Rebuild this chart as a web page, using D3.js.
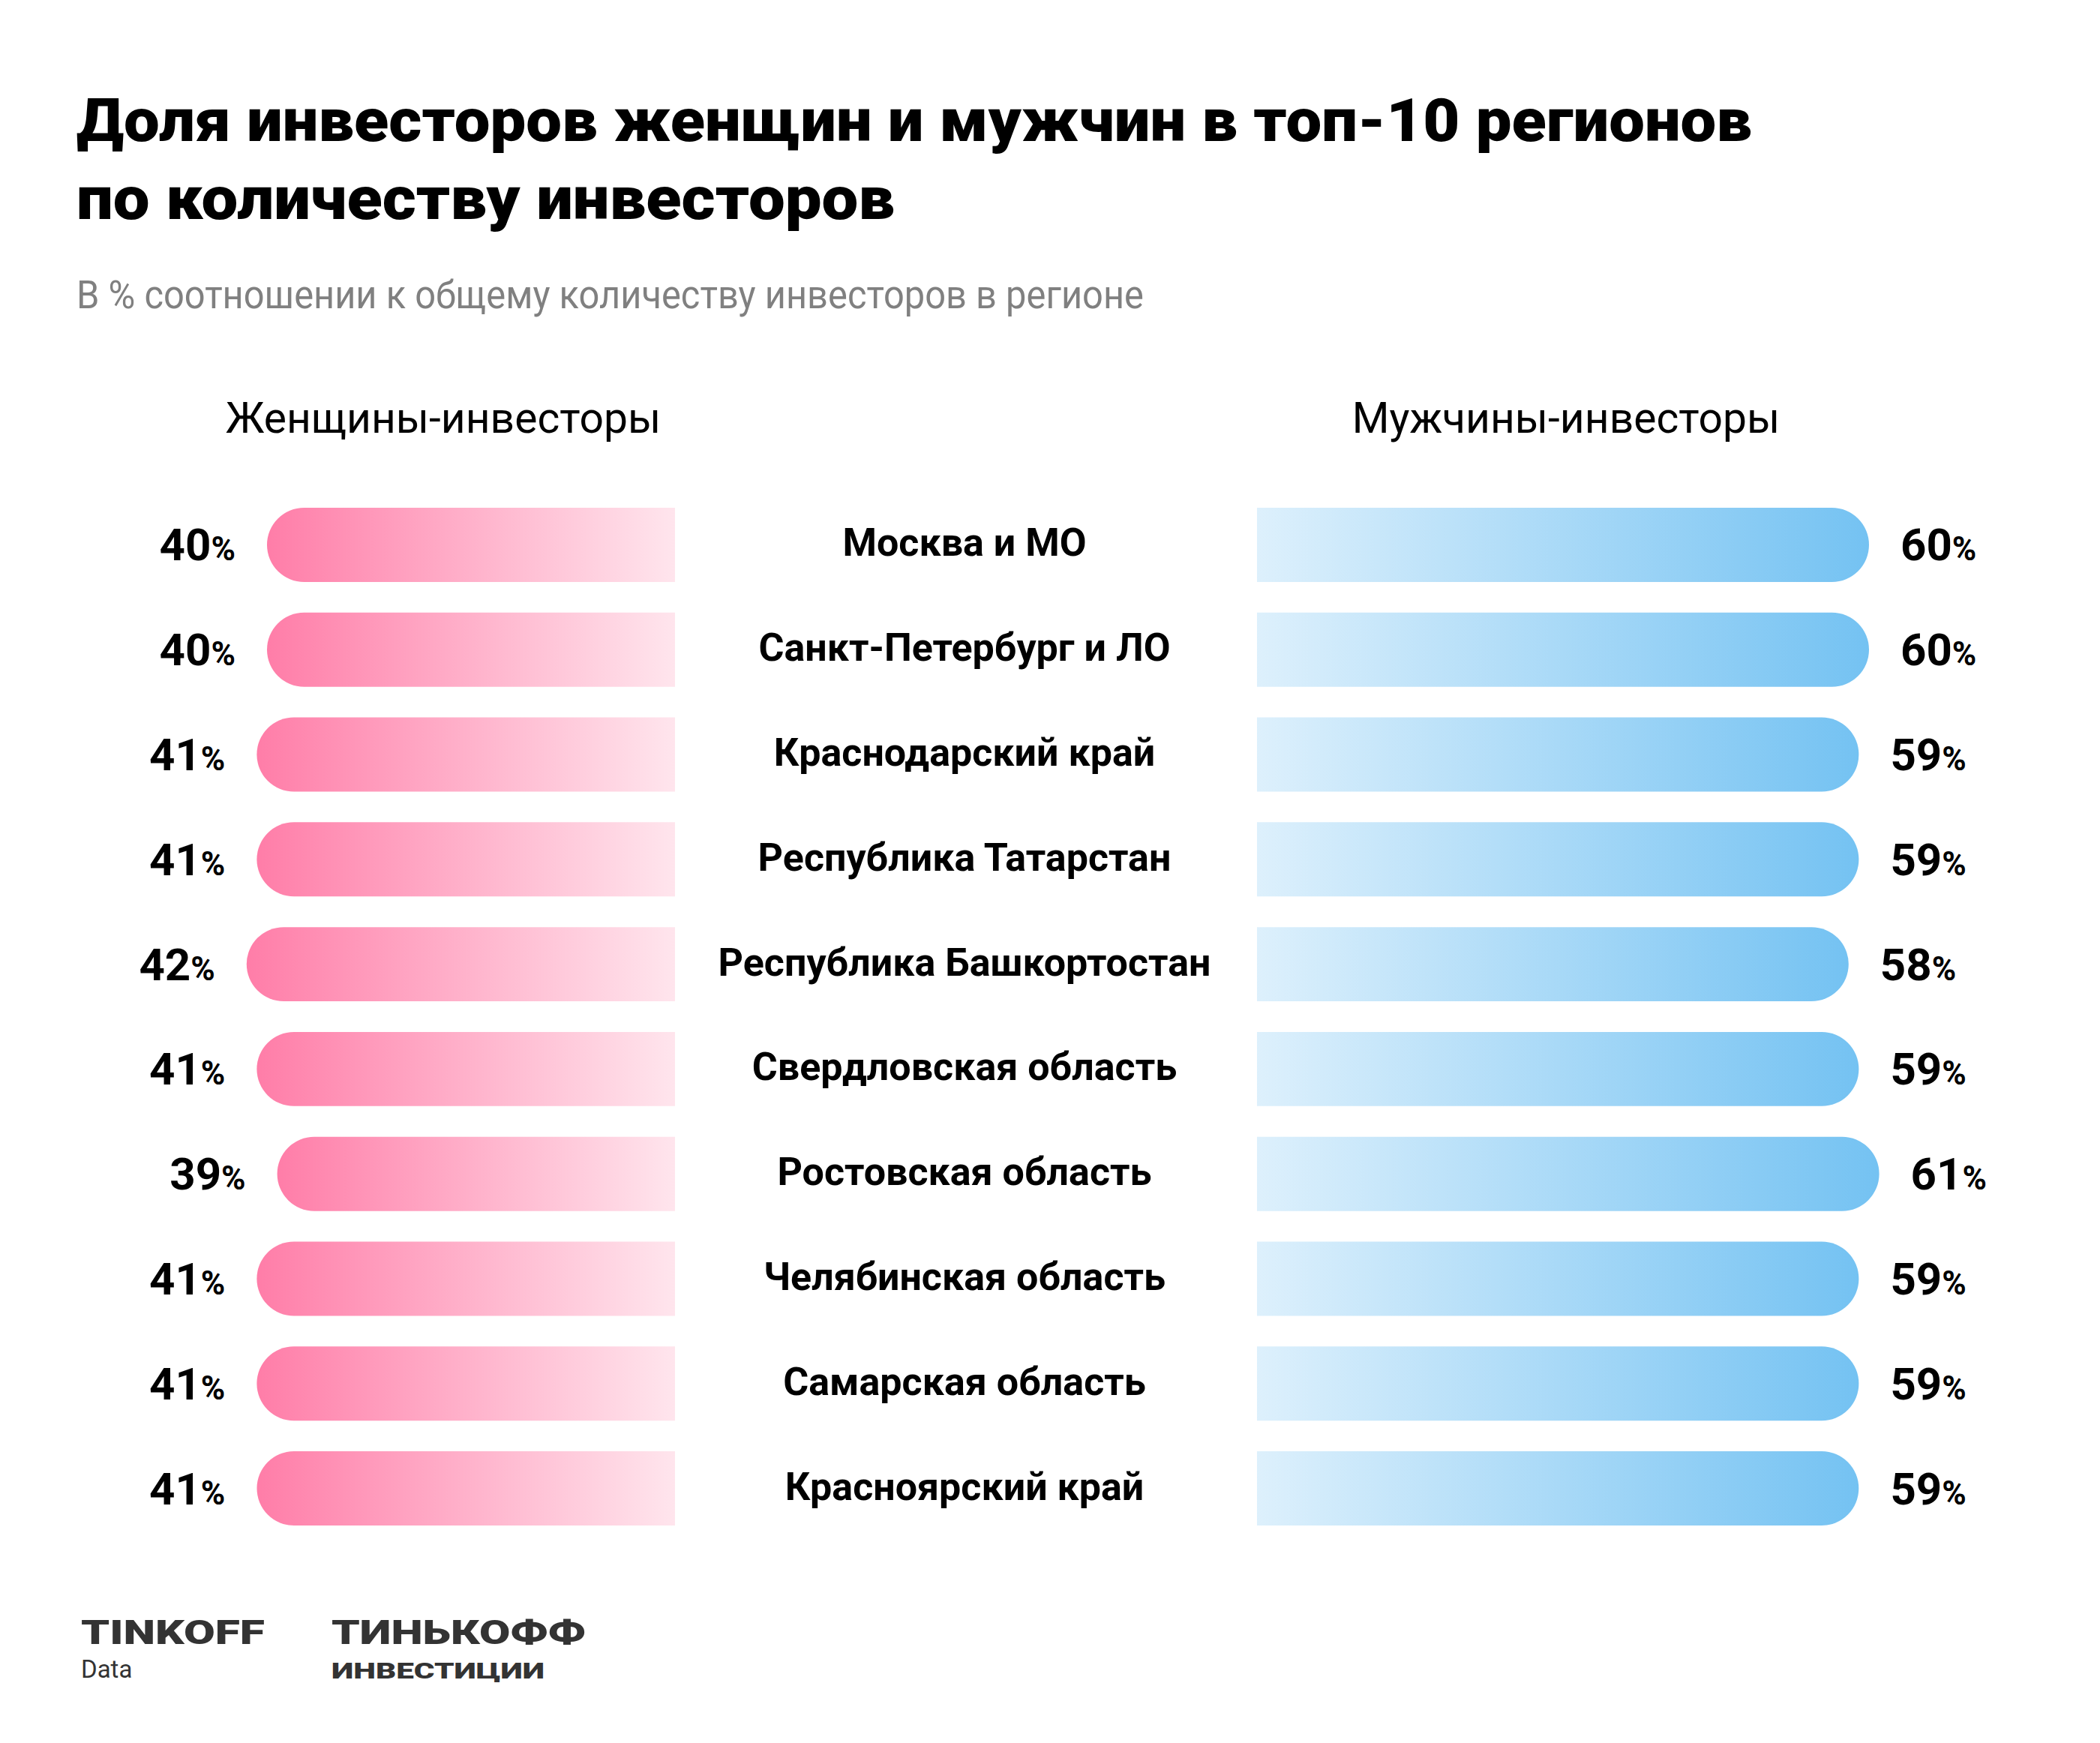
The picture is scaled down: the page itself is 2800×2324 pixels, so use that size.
<!DOCTYPE html>
<html><head><meta charset="utf-8">
<script src="https://cdn.jsdelivr.net/npm/d3@7"></script>
<style>body{margin:0;background:#fff}svg{display:block}</style>
</head><body>
<script>
// ---- data ----
const regions = ["Москва и МО","Санкт-Петербург и ЛО","Краснодарский край","Республика Татарстан","Республика Башкортостан","Свердловская область","Ростовская область","Челябинская область","Самарская область","Красноярский край"];
const women = [40,40,41,41,42,41,39,41,41,41];
const men = [60,60,59,59,58,59,61,59,59,59];
const seriesNames = ["Женщины-инвесторы","Мужчины-инвесторы"];
const titleLines = ["Доля инвесторов женщин и мужчин в топ-10 регионов","по количеству инвесторов"];
const subtitle = "В % соотношении к общему количеству инвесторов в регионе";
const logo1 = ["TINKOFF","Data"];
const logo2 = ["ТИНЬКОФФ","ИНВЕСТИЦИИ"];

// ---- layout ----
const W = 2800, H = 2324;
const F = "Roboto, 'Noto Sans', sans-serif";
const svg = d3.select("body").append("svg").attr("width", W).attr("height", H);
svg.append("rect").attr("width", W).attr("height", H).attr("fill", "#fff");

const defs = svg.append("defs");
function grad(id, c0, c1){
  const g = defs.append("linearGradient").attr("id", id).attr("x1","0").attr("x2","1").attr("y1","0").attr("y2","0");
  g.append("stop").attr("offset","0").attr("stop-color", c0);
  g.append("stop").attr("offset","1").attr("stop-color", c1);
}
grad("gPink", "#FF7DA8", "#FFE5ED");
grad("gBlue", "#DDF0FC", "#74C2F2");

function fit(sel, w){ sel.attr("textLength", w).attr("lengthAdjust", "spacingAndGlyphs"); }

// title
const tt = svg.append("g").attr("font-family", F).attr("font-weight", 900).attr("fill", "#000");
fit(tt.append("text").attr("x", 102).attr("y", 188).attr("font-size", 80).text(titleLines[0]), 2234);
fit(tt.append("text").attr("x", 102).attr("y", 292).attr("font-size", 80).text(titleLines[1]), 1091);
fit(svg.append("text").attr("x", 102).attr("y", 411).attr("font-family", F).attr("font-size", 51)
  .attr("fill", "#808080").text(subtitle), 1423);

// scales
const y = d3.scaleBand().domain(regions).range([677, 2034]).paddingInner(0.292).paddingOuter(0);
const x = d3.scaleLinear().domain([0, 100]).range([0, 1360]);
const leftEnd = 900, rightStart = 1676, centerX = 1286;
const bw = y.bandwidth(), r = bw / 2;

// headers
svg.append("text").attr("x", 591).attr("y", 577).attr("text-anchor", "middle").attr("font-family", F)
  .attr("font-size", 57).attr("fill", "#000").text(seriesNames[0]);
svg.append("text").attr("x", 2088).attr("y", 577).attr("text-anchor", "middle").attr("font-family", F)
  .attr("font-size", 57).attr("fill", "#000").text(seriesNames[1]);

const rows = regions.map((name, i) => ({name, w: women[i], m: men[i]}));

// women bars
svg.append("g").selectAll("path").data(rows).join("path")
  .attr("fill", "url(#gPink)")
  .attr("d", d => {
    const t = y(d.name), b = t + bw, l = leftEnd - x(d.w);
    return `M${leftEnd},${t}L${l + r},${t}A${r},${r} 0 0 0 ${l + r},${b}L${leftEnd},${b}Z`;
  });
// men bars
svg.append("g").selectAll("path").data(rows).join("path")
  .attr("fill", "url(#gBlue)")
  .attr("d", d => {
    const t = y(d.name), b = t + bw, rr = rightStart + x(d.m);
    return `M${rightStart},${t}L${rr - r},${t}A${r},${r} 0 0 1 ${rr - r},${b}L${rightStart},${b}Z`;
  });

// region labels
svg.append("g").selectAll("text").data(rows).join("text")
  .attr("x", centerX).attr("y", d => y(d.name) + bw / 2 + 15)
  .attr("text-anchor", "middle").attr("font-family", F).attr("font-weight", 700)
  .attr("font-size", 52).attr("fill", "#000").text(d => d.name);

// value labels
function pct(sel){
  sel.append("tspan").attr("font-size", 60).text(d => d.v);
  sel.append("tspan").attr("font-size", 44).text("%");
}
svg.append("g").selectAll("text").data(rows.map(d => ({name: d.name, v: d.w}))).join("text")
  .attr("x", d => leftEnd - x(d.v) - 42).attr("y", d => y(d.name) + bw / 2 + 21)
  .attr("text-anchor", "end").attr("font-family", F).attr("font-weight", 700).attr("fill", "#000")
  .call(pct);
svg.append("g").selectAll("text").data(rows.map(d => ({name: d.name, v: d.m}))).join("text")
  .attr("x", d => rightStart + x(d.v) + 42).attr("y", d => y(d.name) + bw / 2 + 21)
  .attr("text-anchor", "start").attr("font-family", F).attr("font-weight", 700).attr("fill", "#000")
  .call(pct);

// logos
const lg = svg.append("g").attr("font-family", F).attr("fill", "#333");
fit(lg.append("text").attr("x", 108).attr("y", 2192).attr("font-size", 44).attr("font-weight", 900).text(logo1[0]), 245);
lg.append("text").attr("x", 108).attr("y", 2237).attr("font-size", 33).text(logo1[1]);
fit(lg.append("text").attr("x", 442).attr("y", 2192).attr("font-size", 44).attr("font-weight", 900).text(logo2[0]), 339);
fit(lg.append("text").attr("x", 442).attr("y", 2238).attr("font-size", 30).attr("font-weight", 900).text(logo2[1]), 284);
</script>
</body></html>
